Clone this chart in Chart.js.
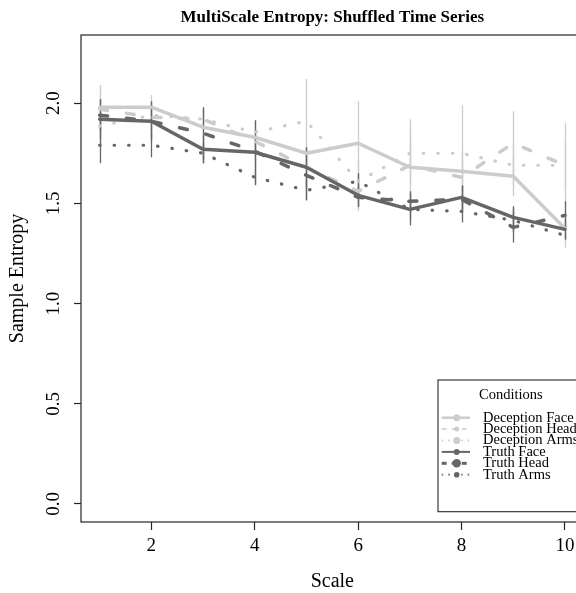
<!DOCTYPE html>
<html><head><meta charset="utf-8">
<script src="https://cdn.jsdelivr.net/npm/chart.js@4"></script>
<style>html,body{margin:0;padding:0;overflow:hidden;background:#fff}canvas{display:block}</style>
</head><body>
<canvas id="c" width="600" height="593"></canvas>
<script>
const chartTitle = 'MultiScale Entropy: Shuffled Time Series';
const xTitle = 'Scale';
const yTitle = 'Sample Entropy';
const legendTitle = 'Conditions';
const scaleValues = [1,2,3,4,5,6,7,8,9,10];
const seriesNames = ['Deception Face','Deception Head','Deception Arms','Truth Face','Truth Head','Truth Arms'];
const decFace   = [1.98, 1.98, 1.88, 1.83, 1.75, 1.80, 1.68, 1.66, 1.635, 1.375];
const decHead   = [1.97, 1.93, 1.92, 1.81, 1.68, 1.56, 1.69, 1.63, 1.80, 1.69];
const decArms   = [1.885, 1.94, 1.92, 1.855, 1.91, 1.61, 1.75, 1.75, 1.69, 1.69];
const truthFace = [1.92, 1.91, 1.77, 1.755, 1.68, 1.54, 1.47, 1.53, 1.43, 1.37];
const truthHead = [1.94, 1.91, 1.85, 1.76, 1.64, 1.53, 1.51, 1.52, 1.38, 1.44];
const truthArms = [1.79, 1.79, 1.75, 1.63, 1.565, 1.61, 1.47, 1.46, 1.415, 1.34];
const decFaceErr   = [0.11, 0.06, 0.10, 0.08, 0.05, 0.21, 0.24, 0.10, 0.10, 0.095];
const decHeadErr   = [0.10, 0.07, 0.05, 0.06, 0.10, 0.10, 0.10, 0.10, 0.16, 0.12];
const decArmsErr   = [0.10, 0.07, 0.05, 0.06, 0.21, 0.10, 0.12, 0.24, 0.10, 0.21];
const truthFaceErr = [0.10, 0.10, 0.07, 0.16, 0.10, 0.055, 0.08, 0.06, 0.055, 0.05];
const truthHeadErr = [0.08, 0.08, 0.13, 0.08, 0.125, 0.05, 0.05, 0.065, 0.075, 0.07];
const truthArmsErr = [0.09, 0.06, 0.05, 0.04, 0.05, 0.04, 0.05, 0.055, 0.06, 0.02];
const xTickValues = [2,4,6,8,10];
const xTickLabels = ['2','4','6','8','10'];
const yTickValues = [0,0.5,1,1.5,2];
const yTickLabels = ['0.0','0.5','1.0','1.5','2.0'];

const LIGHT = '#cccccc', DARK = '#666666', AXIS = '#262626';
const SERIF = '"Liberation Serif", "Times New Roman", serif';

function mk(label, values, errs, color, style, order) {
  const ds = {
    label, data: scaleValues.map((x,i)=>({x, y: values[i]})), errBars: errs,
    borderColor: color, backgroundColor: color, borderWidth: 3.5, pointRadius: 0,
    pointHoverRadius: 0, tension: 0, fill: false, order, lineStyle: style,
    borderCapStyle: 'round', borderJoinStyle: 'round'
  };
  if (style === 'dashed') ds.borderDash = [8, 19];
  if (style === 'dotted') { ds.borderDash = [0.5, 14]; ds.borderWidth = 3.2; }
  return ds;
}
const datasets = [
  mk(seriesNames[0], decFace, decFaceErr, LIGHT, 'solid', 6),
  mk(seriesNames[1], decHead, decHeadErr, LIGHT, 'dashed', 5),
  mk(seriesNames[2], decArms, decArmsErr, LIGHT, 'dotted', 4),
  mk(seriesNames[3], truthFace, truthFaceErr, DARK, 'solid', 3),
  mk(seriesNames[4], truthHead, truthHeadErr, DARK, 'dashed', 2),
  mk(seriesNames[5], truthArms, truthArmsErr, DARK, 'dotted', 1)
];

const errorBars = {
  id: 'errorBars',
  beforeDatasetsDraw(chart) {
    const {ctx, chartArea: ca} = chart;
    const xs = chart.scales.x, ys = chart.scales.y;
    ctx.save();
    ctx.beginPath(); ctx.rect(ca.left, ca.top, ca.right - ca.left, ca.bottom - ca.top); ctx.clip();
    chart.data.datasets.forEach(ds => {
      ctx.strokeStyle = ds.borderColor; ctx.lineWidth = 1.3; ctx.setLineDash([]);
      ds.data.forEach((p, i) => {
        const e = ds.errBars[i];
        const px = Math.round(xs.getPixelForValue(p.x)) + 0.5;
        ctx.beginPath();
        ctx.moveTo(px, ys.getPixelForValue(p.y - e));
        ctx.lineTo(px, ys.getPixelForValue(p.y + e));
        ctx.stroke();
      });
    });
    ctx.restore();
  }
};

const decor = {
  id: 'decor',
  afterDraw(chart) {
    const {ctx, chartArea: ca} = chart;
    const ys = chart.scales.y;
    ctx.save();
    // frame
    ctx.strokeStyle = AXIS; ctx.lineWidth = 1.2; ctx.setLineDash([]);
    ctx.strokeRect(ca.left, ca.top, ca.right - ca.left, ca.bottom - ca.top);
    // title
    ctx.fillStyle = '#000';
    ctx.font = 'bold 17px ' + SERIF;
    ctx.textAlign = 'center'; ctx.textBaseline = 'middle';
    ctx.fillText(chartTitle, (ca.left + ca.right) / 2, 17.5);
    // y tick labels (rotated)
    ctx.font = '19px ' + SERIF;
    yTickValues.forEach((v, i) => {
      ctx.save();
      ctx.translate(54, ys.getPixelForValue(v));
      ctx.rotate(-Math.PI / 2);
      ctx.fillText(yTickLabels[i], 0, 0);
      ctx.restore();
    });
    // legend
    const x0 = ca.right - 145.6, y1 = ca.bottom - 10.3, y0 = ca.bottom - 142, x1 = ca.right;
    ctx.fillStyle = '#fff';
    ctx.fillRect(x0, y0, x1 - x0, y1 - y0);
    ctx.strokeStyle = AXIS; ctx.lineWidth = 1.1;
    ctx.strokeRect(x0, y0, x1 - x0, y1 - y0);
    ctx.fillStyle = '#000';
    ctx.font = '14.5px ' + SERIF;
    ctx.textAlign = 'center';
    ctx.fillText(legendTitle, (x0 + x1) / 2, y0 + 15);
    const markR = [3.5, 2.5, 3.5, 3, 4.2, 2.8];
    const lineW = [2.5, 1.5, 2.2, 2, 3, 1.8];
    datasets.forEach((ds, i) => {
      const yy = y0 + 37.7 + i * 11.4;
      ctx.strokeStyle = ds.borderColor; ctx.fillStyle = ds.borderColor;
      ctx.lineWidth = lineW[i];
      ctx.lineCap = 'butt';
      if (ds.lineStyle === 'dashed') ctx.setLineDash([5, 5]);
      else if (ds.lineStyle === 'dotted') { ctx.setLineDash([1.5, 5]); }
      else ctx.setLineDash([]);
      ctx.beginPath(); ctx.moveTo(x0 + 3.7, yy); ctx.lineTo(x0 + 32, yy); ctx.stroke();
      ctx.setLineDash([]);
      ctx.beginPath(); ctx.arc(x0 + 18.7, yy, markR[i], 0, Math.PI * 2); ctx.fill();
      ctx.fillStyle = '#000';
      ctx.textAlign = 'left';
      ctx.fillText(ds.label, x0 + 45, yy);
    });
    ctx.restore();
  }
};

new Chart(document.getElementById('c'), {
  type: 'line',
  data: { datasets },
  options: {
    responsive: false, animation: false, devicePixelRatio: 1,
    layout: { padding: { top: 35, right: 16.4, left: 0, bottom: 0 } },
    plugins: { legend: { display: false }, title: { display: false }, tooltip: { enabled: false } },
    scales: {
      x: {
        type: 'linear', min: 0.64, max: 10.36,
        afterBuildTicks: s => { s.ticks = xTickValues.map(v => ({ value: v })); },
        afterFit: s => { s.height = 71; },
        ticks: { font: { family: SERIF, size: 19 }, color: '#000', padding: 5, maxRotation: 0, autoSkip: false,
                 callback: v => xTickLabels[xTickValues.indexOf(v)] },
        grid: { display: true, drawOnChartArea: false, drawTicks: true, tickLength: 8, color: AXIS, tickColor: AXIS, tickWidth: 1.2 },
        border: { display: false },
        title: { display: true, text: xTitle, color: '#000', font: { family: SERIF, size: 20, lineHeight: 1 }, padding: { top: 0, bottom: 1 } }
      },
      y: {
        type: 'linear', min: -0.09, max: 2.34,
        afterBuildTicks: s => { s.ticks = yTickValues.map(v => ({ value: v })); },
        afterFit: s => { s.width = 81; },
        ticks: { display: false },
        grid: { display: true, drawOnChartArea: false, drawTicks: true, tickLength: 7, color: AXIS, tickColor: AXIS, tickWidth: 1.2 },
        border: { display: false },
        title: { display: true, text: yTitle, color: '#000', font: { family: SERIF, size: 20, lineHeight: 1 }, padding: { top: 8, bottom: 0 } }
      }
    }
  },
  plugins: [errorBars, decor]
});
</script>
</body></html>
